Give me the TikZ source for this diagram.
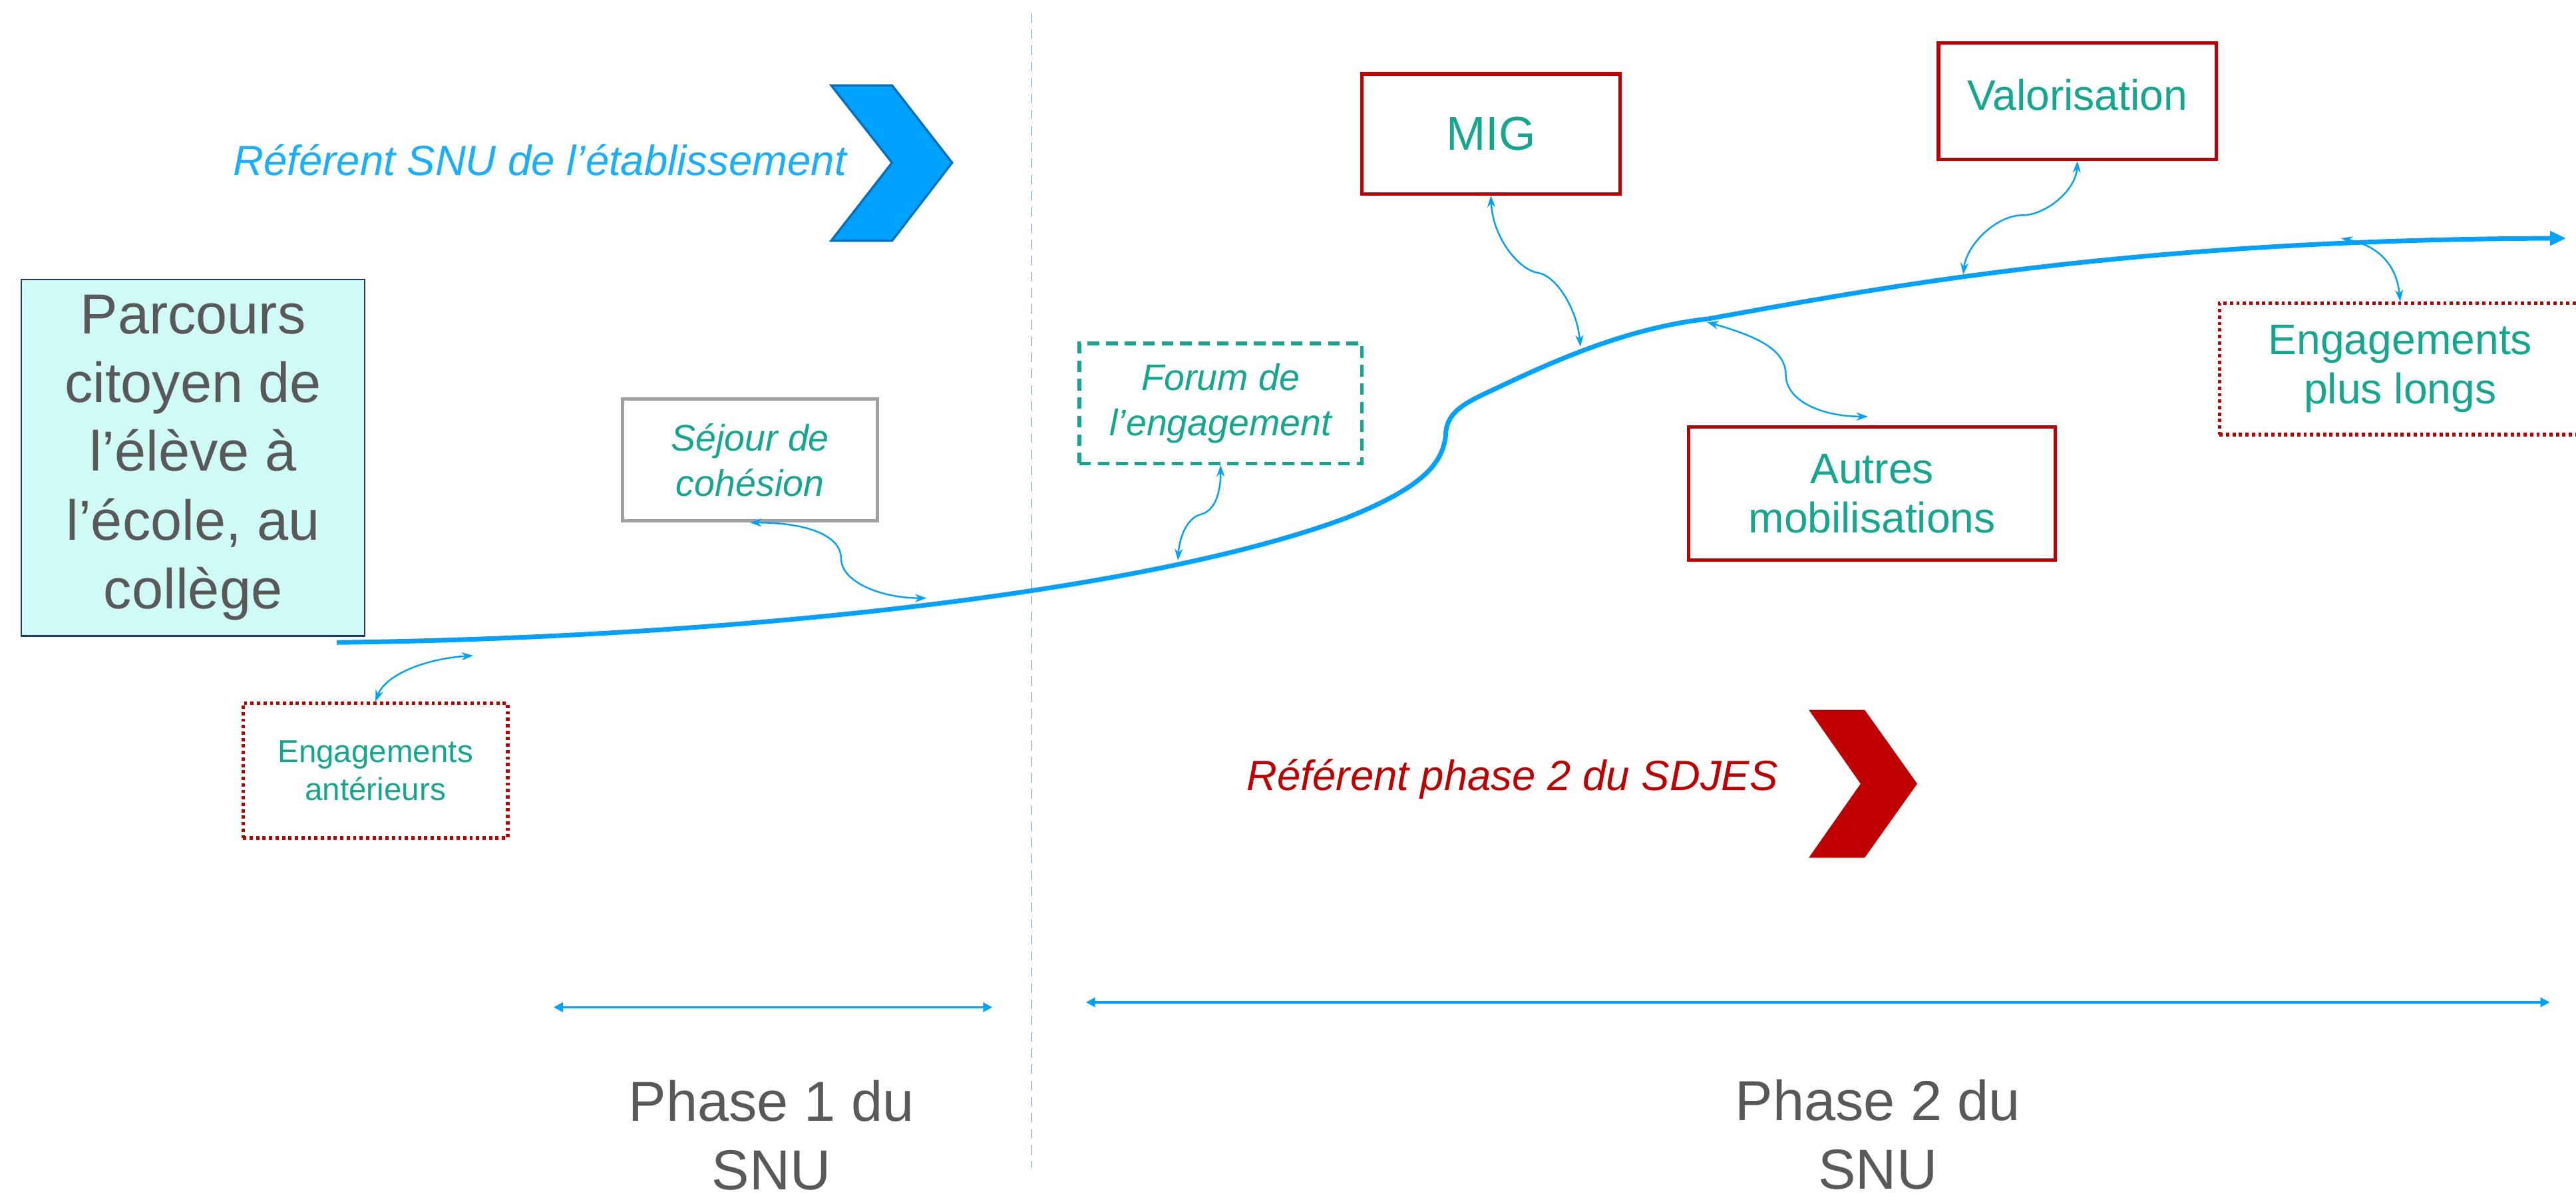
\documentclass[tikz,border=0pt]{standalone}
\usepackage{fontspec}
\setmainfont{Liberation Sans}
\usetikzlibrary{arrows.meta}

\definecolor{snublue}{RGB}{0,162,255}
\definecolor{chevblue}{RGB}{0,112,192}
\definecolor{reftext}{RGB}{24,175,255}
\definecolor{snuteal}{RGB}{19,168,142}
\definecolor{snured}{RGB}{192,0,0}
\definecolor{textgray}{RGB}{89,89,89}
\definecolor{aquafill}{RGB}{208,250,246}
\definecolor{navyline}{RGB}{32,56,100}
\definecolor{sepline}{RGB}{100,150,200}

\begin{document}
\begin{tikzpicture}[x=0.025cm,y=-0.025cm,
    box/.style={align=center,inner sep=1pt},
    parcoursbox/.style={box,draw=navyline,fill=aquafill,line width=0.6pt,text=textgray,
      font=\fontsize{24.4}{29.7}\selectfont},
    redbox/.style={box,draw=snured,line width=1.5pt,text=snuteal,
      font=\fontsize{18.5}{21.5}\selectfont},
    dotbox/.style={redbox,dash pattern=on 1.4pt off 1.4pt},
    greybox/.style={box,draw={rgb,255:red,160;green,160;blue,160},line width=1.5pt,text=snuteal,
      font=\fontsize{16}{19.4}\selectfont\itshape},
    forumbox/.style={greybox,draw=snuteal,dash pattern=on 5pt off 3pt},
    phaselabel/.style={align=center,text=textgray,font=\fontsize{24.4}{29.7}\selectfont},
    mainline/.style={snublue,line width=2pt,arrows=-{Triangle[length=7pt,width=6pt]}},
    link/.style={snublue,line width=0.7pt,>={Stealth[length=5pt,width=3.5pt]},<->},
    span/.style={snublue,line width=1pt,>={Triangle[length=4pt,width=4pt]},<->}
  ]
  \useasboundingbox (0,0) rectangle (1568,730);

  \coordinate (septop) at (628,8);
  \coordinate (sepbot) at (628,711);
  \draw[sepline,line width=0.5pt,dash pattern=on 4pt off 3pt] (septop) -- (sepbot);

  \node[anchor=base west,text=reftext,font=\fontsize{18.3}{22}\selectfont\itshape] (refsnu) at (137,106.6)
    {Référent SNU de l’établissement};
  \filldraw[fill=snublue,draw=chevblue,line width=1pt]
    (506,52) -- (543,52) -- (579.5,99) -- (543,146.5) -- (506,146.5) -- (543,99) -- cycle;

  \node[anchor=base west,text=snured,font=\fontsize{18.3}{22}\selectfont\itshape] (refsdjes) at (754,481)
    {Référent phase 2 du SDJES};
  \fill[snured]
    (1101,432) -- (1135,432) -- (1167,477) -- (1135,522) -- (1101,522) -- (1132.5,477) -- cycle;

  \node[parcoursbox,minimum width=5.225cm,minimum height=5.425cm] (parcours) at (117.5,278.5)
    {Parcours\\citoyen de\\l’élève à\\l’école, au\\collège};
  \node[dotbox,minimum width=4.025cm,minimum height=2.05cm,
    font=\fontsize{13.7}{16.4}\selectfont] (anterieurs) at (228.5,469) {Engagements\\antérieurs};
  \node[greybox,minimum width=3.875cm,minimum height=1.85cm] (sejour) at (456.5,280)
    {Séjour de\\cohésion};
  \node[forumbox,minimum width=4.3cm,minimum height=1.825cm] (forum) at (743,245.5)
    {Forum de\\l’engagement};
  \node[redbox,minimum width=3.925cm,minimum height=1.825cm,
    font=\fontsize{20.5}{24}\selectfont] (mig) at (907.5,81.5) {MIG};
  \node[redbox,minimum width=4.225cm,minimum height=1.775cm,text depth=5.7pt] (valo) at (1264.5,61.5)
    {Valorisation};
  \node[redbox,minimum width=5.575cm,minimum height=2.025cm] (autres) at (1139.5,300.5)
    {Autres\\mobilisations};
  \node[dotbox,minimum width=5.5cm,minimum height=2cm] (longs) at (1461,224.5)
    {Engagements\\plus longs};

  \coordinate (start) at (205,391);
  \coordinate (fin) at (1562,145);
  \draw[mainline] (start) .. controls (450,388) and (700,360) .. (820,315)
    .. controls (870,295) and (878,280) .. (880,265)
    .. controls (880,252) and (890,246) .. (905,239)
    .. controls (935,225) and (985,200) .. (1040,194)
    .. controls (1150,174) and (1300,146) .. (fin);

  \coordinate (c1) at (288,399);
  \coordinate (c2) at (564,364);
  \coordinate (c3) at (717,341);
  \coordinate (c4) at (962,211);
  \coordinate (c5) at (1195,167);
  \coordinate (c6) at (1039,196);
  \coordinate (c7) at (1425,145);
  \coordinate (a2) at (1137,253.5);

  \draw[link] (anterieurs.north) .. controls +(6,-16) and +(-30,2) .. (c1);
  \draw[link] (sejour.south) .. controls +(35,0) and +(0,-14) .. (512,340)
    .. controls +(0,14) and +(-28,0) .. (c2);
  \draw[link] (forum.south) .. controls +(0,18) and +(8,-2) .. (731,313)
    .. controls +(-8,2) and +(1,-15) .. (c3);
  \draw[link] (mig.south) .. controls +(1,25) and +(-12,-2) .. (936,166)
    .. controls +(12,2) and +(-2,-22) .. (c4);
  \draw[link] (valo.south) .. controls +(-1,18) and +(14,0) .. (1231,131)
    .. controls +(-16,0) and +(2,-18) .. (c5);
  \draw[link] (c6) .. controls +(28,8) and +(0,-16) .. (1087,228)
    .. controls +(0,16) and +(-28,0) .. (a2);
  \draw[link] (c7) .. controls +(25,5) and +(-2,-20) .. (longs.north);

  \coordinate (p1a) at (337,613);
  \coordinate (p1b) at (604,613);
  \coordinate (p2a) at (661,610);
  \coordinate (p2b) at (1552,610);
  \draw[span] (p1a) -- (p1b);
  \draw[span] (p2a) -- (p2b);
  \node[phaselabel] (phase1) at (469.5,691) {Phase 1 du\\SNU};
  \node[phaselabel] (phase2) at (1143,690.4) {Phase 2 du\\SNU};
\end{tikzpicture}
\end{document}
